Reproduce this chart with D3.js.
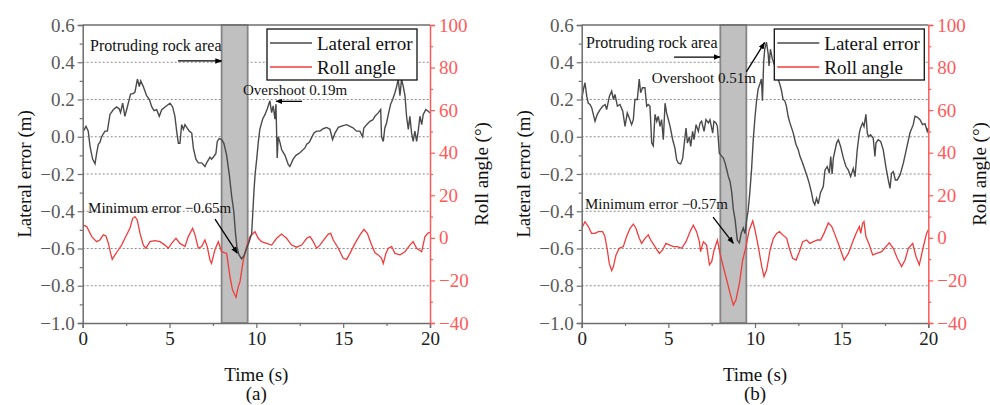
<!DOCTYPE html>
<html>
<head>
<meta charset="utf-8">
<script src="https://cdn.jsdelivr.net/npm/d3@7"></script>
<style>
body{margin:0;background:#fff;}
text{font-family:"Liberation Serif","Times New Roman",serif;}
</style>
</head>
<body>
<script>
// time ticks and axis ranges
const timeTicks = [0, 5, 10, 15, 20];
const timeMinor = [2.5, 7.5, 12.5, 17.5];
const latTicks = [-1.0, -0.8, -0.6, -0.4, -0.2, 0.0, 0.2, 0.4, 0.6];
const latMinor = [-0.9, -0.7, -0.5, -0.3, -0.1, 0.1, 0.3, 0.5];
const latGrid = [-0.8, -0.6, -0.4, -0.2, 0.0, 0.2, 0.4];
const rollTicks = [-40, -20, 0, 20, 40, 60, 80, 100];
const rollMinor = [-30, -10, 10, 30, 50, 70, 90];
const rockArea = [8.0, 9.5];
const legendNames = ["Lateral error", "Roll angle"];
const panelLabels = ["(a)", "(b)"];

// panel (a) : [time s, lateral error m]
const latA = [[0.04,0.03],[0.19,0.056],[0.32,0.03],[0.42,-0.05],[0.57,-0.12],[0.71,-0.145],[0.80,-0.09],[0.90,-0.04],[0.99,-0.03],[1.09,0.0],[1.28,0.03],[1.42,0.03],[1.57,0.12],[1.76,0.145],[1.95,0.16],[2.1,0.15],[2.18,0.13],[2.3,0.18],[2.43,0.11],[2.57,0.16],[2.76,0.23],[2.88,0.23],[3.01,0.24],[3.15,0.31],[3.26,0.27],[3.34,0.30],[3.49,0.27],[3.68,0.22],[3.84,0.20],[3.98,0.16],[4.11,0.14],[4.26,0.145],[4.41,0.11],[4.55,0.145],[4.74,0.16],[5.03,0.18],[5.18,0.16],[5.31,0.11],[5.41,0.03],[5.51,-0.035],[5.6,-0.035],[5.7,0.065],[5.8,0.04],[5.89,0.065],[5.99,0.05],[6.14,0.03],[6.28,0.02],[6.37,-0.06],[6.52,-0.12],[6.66,-0.14],[6.85,-0.14],[7.04,-0.16],[7.14,-0.14],[7.33,-0.11],[7.42,-0.12],[7.52,-0.11],[7.67,-0.09],[7.75,-0.025],[7.86,-0.01],[8.0,-0.015],[8.13,-0.035],[8.29,-0.10],[8.45,-0.21],[8.58,-0.32],[8.7,-0.40],[8.8,-0.52],[8.88,-0.59],[9.0,-0.635],[9.15,-0.655],[9.28,-0.64],[9.44,-0.60],[9.6,-0.56],[9.73,-0.52],[9.8,-0.40],[9.87,-0.28],[9.93,-0.20],[10.02,-0.12],[10.11,-0.03],[10.2,0.04],[10.36,0.094],[10.5,0.12],[10.63,0.15],[10.78,0.193],[10.88,0.13],[10.97,0.166],[11.07,0.094],[11.13,0.175],[11.2,-0.114],[11.26,0.0],[11.36,-0.03],[11.46,-0.07],[11.65,-0.10],[11.84,-0.15],[11.93,-0.16],[12.12,-0.12],[12.28,-0.10],[12.51,-0.086],[12.8,-0.06],[12.9,-0.04],[13.05,-0.03],[13.18,-0.005],[13.32,0.02],[13.47,0.03],[13.66,0.03],[13.85,0.043],[14.05,0.05],[14.24,0.04],[14.39,-0.015],[14.53,0.02],[14.72,0.05],[15.0,0.06],[15.2,0.065],[15.39,0.056],[15.58,0.047],[15.77,0.03],[15.96,0.03],[16.12,0.0],[16.19,0.047],[16.35,0.065],[16.54,0.083],[16.7,0.09],[16.83,0.11],[17.02,0.128],[17.16,0.146],[17.21,0.0],[17.31,-0.025],[17.4,0.047],[17.5,0.074],[17.6,0.12],[17.73,0.174],[17.85,0.2],[17.98,0.236],[18.08,0.27],[18.17,0.31],[18.27,0.22],[18.36,0.31],[18.46,0.27],[18.56,0.22],[18.65,0.11],[18.75,0.04],[18.84,0.11],[18.94,0.02],[19.03,-0.025],[19.13,0.03],[19.23,-0.025],[19.32,0.03],[19.42,0.11],[19.52,0.065],[19.61,0.12],[19.76,0.146],[19.9,0.137],[20.0,0.128]];

// panel (a) : [time s, roll angle deg]
const rollA = [[0.04,6.0],[0.23,5.3],[0.52,0.6],[0.8,-1.8],[0.99,-1.0],[1.19,1.4],[1.34,0.9],[1.48,-2.6],[1.61,-7.3],[1.7,-10.1],[1.86,-8.0],[2.05,-5.7],[2.24,-3.4],[2.43,-0.2],[2.72,4.5],[2.88,9.2],[3.01,10.0],[3.14,8.4],[3.3,2.1],[3.49,-3.4],[3.64,-4.9],[3.87,-1.8],[4.16,-1.3],[4.45,-1.8],[4.74,-3.4],[4.93,-4.9],[5.12,-2.6],[5.37,-0.2],[5.6,-2.6],[5.89,-4.1],[6.08,0.6],[6.33,4.5],[6.47,1.4],[6.66,-4.9],[6.85,-4.1],[7.04,-1.0],[7.17,-4.1],[7.33,-10.4],[7.42,-12.0],[7.61,-5.7],[7.81,-1.8],[8.0,-6.5],[8.29,-7.3],[8.48,-18.2],[8.63,-24.5],[8.83,-27.9],[8.96,-22.9],[9.06,-20.6],[9.25,-10.4],[9.44,-4.1],[9.63,0.6],[9.92,2.9],[10.11,-0.2],[10.3,-1.8],[10.59,-2.6],[10.88,-3.4],[11.17,-0.2],[11.45,1.8],[11.74,-0.2],[12.03,-3.4],[12.32,-4.4],[12.61,-3.4],[12.9,-0.2],[13.09,0.6],[13.28,-1.8],[13.47,-4.9],[13.66,-3.4],[13.95,-0.2],[14.14,1.8],[14.28,2.1],[14.43,-1.0],[14.72,-4.9],[15.0,-9.6],[15.2,-10.1],[15.39,-7.3],[15.68,-2.6],[15.97,1.4],[16.2,4.0],[16.39,2.1],[16.64,-3.4],[16.83,-7.0],[17.02,-8.0],[17.21,-9.6],[17.31,-12.0],[17.46,-7.3],[17.6,-4.9],[17.79,-4.1],[17.98,-7.3],[18.27,-8.0],[18.56,-6.5],[18.84,-3.4],[19.03,-1.8],[19.23,-4.9],[19.52,-6.5],[19.71,0.6],[19.9,2.4],[20.0,2.6]];

// panel (b) : [time s, lateral error m]
const latB = [[0.0,0.2],[0.1,0.254],[0.19,0.29],[0.29,0.218],[0.38,0.18],[0.48,0.173],[0.58,0.155],[0.67,0.12],[0.77,0.083],[0.9,0.12],[1.06,0.146],[1.21,0.164],[1.35,0.173],[1.44,0.146],[1.6,0.218],[1.73,0.245],[1.83,0.2],[1.92,0.227],[2.06,0.164],[2.21,0.173],[2.37,0.137],[2.5,0.056],[2.63,0.128],[2.75,0.1],[2.88,0.065],[2.98,0.092],[3.07,0.2],[3.21,0.2],[3.32,0.31],[3.4,0.236],[3.51,0.263],[3.65,0.263],[3.75,0.164],[3.84,0.173],[3.94,0.164],[4.04,-0.034],[4.13,-0.049],[4.23,0.12],[4.33,0.083],[4.42,0.11],[4.52,0.056],[4.61,0.092],[4.71,-0.016],[4.81,0.18],[4.9,0.128],[5.0,0.092],[5.1,0.056],[5.25,-0.016],[5.38,-0.061],[5.48,-0.124],[5.58,-0.142],[5.71,-0.146],[5.83,-0.115],[5.9,-0.052],[6.02,0.047],[6.1,-0.034],[6.21,0.0],[6.29,-0.052],[6.4,0.029],[6.48,-0.016],[6.6,0.065],[6.73,0.029],[6.83,0.074],[6.92,0.083],[7.06,0.029],[7.17,0.092],[7.31,0.074],[7.4,0.092],[7.56,0.02],[7.63,0.083],[7.75,0.074],[7.83,0.056],[7.94,-0.088],[8.08,-0.104],[8.17,-0.113],[8.27,-0.14],[8.37,-0.177],[8.46,-0.213],[8.56,-0.24],[8.66,-0.30],[8.75,-0.39],[8.85,-0.445],[8.98,-0.555],[9.1,-0.57],[9.2,-0.52],[9.32,-0.49],[9.42,-0.52],[9.52,-0.445],[9.6,-0.40],[9.7,-0.30],[9.8,-0.177],[9.9,-0.014],[9.99,0.094],[10.08,0.184],[10.18,0.256],[10.28,0.283],[10.37,0.31],[10.43,0.193],[10.5,0.40],[10.56,0.47],[10.66,0.508],[10.76,0.445],[10.81,0.38],[10.89,0.47],[11.0,0.418],[11.14,0.38],[11.24,0.40],[11.33,0.31],[11.43,0.283],[11.53,0.247],[11.62,0.20],[11.72,0.193],[11.81,0.166],[11.91,0.11],[12.01,0.076],[12.2,0.022],[12.36,-0.04],[12.49,-0.068],[12.59,-0.104],[12.74,-0.14],[12.88,-0.177],[13.01,-0.213],[13.13,-0.25],[13.26,-0.30],[13.36,-0.348],[13.45,-0.365],[13.55,-0.33],[13.65,-0.36],[13.78,-0.30],[13.94,-0.267],[14.04,-0.178],[14.17,-0.16],[14.29,-0.196],[14.37,-0.106],[14.45,-0.2],[14.52,-0.115],[14.71,-0.034],[14.81,-0.016],[14.94,-0.052],[15.1,-0.115],[15.25,-0.16],[15.38,-0.178],[15.52,-0.214],[15.67,-0.17],[15.77,-0.214],[15.9,-0.07],[16.02,0.02],[16.09,0.047],[16.21,0.074],[16.29,0.056],[16.4,0.12],[16.48,0.02],[16.55,0.0],[16.67,0.011],[16.82,-0.007],[16.92,-0.106],[16.98,-0.034],[17.11,-0.016],[17.25,-0.025],[17.4,-0.07],[17.55,-0.16],[17.69,-0.232],[17.79,-0.277],[17.88,-0.196],[17.98,-0.187],[18.1,-0.232],[18.21,-0.232],[18.37,-0.205],[18.56,-0.142],[18.75,-0.061],[18.94,0.02],[19.13,0.065],[19.23,0.11],[19.36,0.106],[19.52,0.092],[19.67,0.065],[19.81,0.07],[19.94,0.029],[20.0,0.047]];

// panel (b) : [time s, roll angle deg]
const rollB = [[0.0,4.5],[0.19,7.6],[0.38,5.3],[0.57,2.1],[0.77,2.1],[0.96,2.9],[1.21,2.9],[1.34,0.6],[1.48,-5.7],[1.59,-12.0],[1.73,-15.4],[1.83,-13.5],[1.98,-8.0],[2.17,-4.9],[2.4,-4.1],[2.59,0.6],[2.79,4.5],[2.98,6.5],[3.13,4.5],[3.32,-0.2],[3.46,-2.6],[3.65,-0.2],[3.84,1.4],[3.98,-1.0],[4.23,-4.1],[4.48,-7.3],[4.67,-5.7],[4.86,-2.6],[5.09,-3.4],[5.29,-4.1],[5.52,-4.1],[5.77,-4.9],[6.02,-1.8],[6.25,2.9],[6.44,6.0],[6.63,2.9],[6.79,-1.8],[6.86,-6.5],[7.02,-1.8],[7.21,-3.4],[7.37,-12.7],[7.5,-11.2],[7.64,-5.7],[7.83,-1.0],[7.98,-7.3],[8.17,-13.5],[8.37,-19.8],[8.56,-26.1],[8.75,-31.5],[8.9,-29.2],[9.1,-21.4],[9.29,-10.4],[9.48,-4.1],[9.67,3.7],[9.87,8.0],[10.0,3.7],[10.19,-4.1],[10.39,-13.5],[10.52,-18.2],[10.67,-15.1],[10.87,-5.7],[11.06,-0.2],[11.25,2.1],[11.41,2.9],[11.6,1.4],[11.83,-0.2],[11.98,-4.9],[12.17,-9.6],[12.37,-10.4],[12.56,-6.5],[12.75,-1.8],[12.98,-1.0],[13.17,-2.6],[13.37,-1.8],[13.6,-1.0],[13.79,-1.0],[13.98,2.1],[14.23,7.0],[14.43,5.3],[14.62,1.4],[14.87,-4.1],[15.14,-10.4],[15.39,-7.3],[15.64,-1.8],[15.83,2.1],[16.02,5.3],[16.1,2.1],[16.21,6.8],[16.29,7.6],[16.4,0.6],[16.6,-3.4],[16.79,-8.0],[17.02,-7.3],[17.31,-6.5],[17.56,-4.1],[17.75,-2.3],[17.98,-4.9],[18.21,-9.6],[18.46,-13.5],[18.66,-10.4],[18.85,-4.9],[19.1,-2.6],[19.29,-8.8],[19.48,-12.7],[19.67,-5.7],[19.9,2.1],[20.0,3.7]];

// annotations: text position and arrow from/to, in data units
const notesA = [
  {text:"Protruding rock area", at:[0.42,0.46], size:16, from:[5.49,0.407], to:[8.0,0.407]},
  {text:"Overshoot 0.19m", at:[9.23,0.224], size:15, from:[12.63,0.19], to:[11.14,0.19]},
  {text:"Minimum error \u22120.65m", at:[0.31,-0.41], size:15, from:[7.62,-0.442], to:[8.9,-0.625]}
];
const notesB = [
  {text:"Protruding rock area", at:[0.25,0.477], size:16, from:[5.33,0.428], to:[7.98,0.428]},
  {text:"Overshoot 0.51m", at:[4.04,0.289], size:15, from:[9.5,0.348], to:[10.55,0.505]},
  {text:"Minimum error \u22120.57m", at:[0.19,-0.388], size:15, from:[7.58,-0.431], to:[8.75,-0.572]}
];

const W = 990, H = 405;
const plotTop = 25, plotBottom = 323;
const serif = "Liberation Serif, Times New Roman, serif";
const grayAxis = "#6e6e6e", grayText = "#5a5a5a", redAxis = "#ff5a5a", redLine = "#f03c3c", latColor = "#4a4a4a";

const svg = d3.select("body").append("svg")
  .attr("width", W).attr("height", H)
  .attr("font-family", serif);

const defs = svg.append("defs");
defs.append("marker")
  .attr("id", "arrow")
  .attr("viewBox", "0 0 10 10")
  .attr("refX", 9).attr("refY", 5)
  .attr("markerWidth", 7).attr("markerHeight", 7)
  .attr("markerUnits", "userSpaceOnUse")
  .attr("orient", "auto")
  .append("path").attr("d", "M0,1 L10,5 L0,9 Z").attr("fill", "#000");

const panels = [
  {x0: 82.7, x1: 430, lat: latA, roll: rollA, notes: notesA, legendRight: 13, label: panelLabels[0]},
  {x0: 581.7, x1: 928.3, lat: latB, roll: rollB, notes: notesB, legendRight: 4, label: panelLabels[1]}
];

panels.forEach(function(p){
  const x = d3.scaleLinear().domain([0, 20]).range([p.x0, p.x1]);
  const y = d3.scaleLinear().domain([-1.0, 0.6]).range([plotBottom, plotTop]);
  const yR = d3.scaleLinear().domain([-40, 100]).range([plotBottom, plotTop]);
  const g = svg.append("g");

  // grid
  g.selectAll(".grid").data(latGrid).enter().append("line")
    .attr("x1", p.x0).attr("x2", p.x1)
    .attr("y1", d => y(d)).attr("y2", d => y(d))
    .attr("stroke", "#8c8c8c").attr("stroke-width", 1)
    .attr("stroke-dasharray", "2,2");

  // shaded rock area
  g.append("rect")
    .attr("x", x(rockArea[0])).attr("y", plotTop)
    .attr("width", x(rockArea[1]) - x(rockArea[0]))
    .attr("height", plotBottom - plotTop)
    .attr("fill", "#c0c0c0").attr("stroke", "#858585").attr("stroke-width", 1.8);

  // lines
  const lineRoll = d3.line().x(d => x(d[0])).y(d => yR(d[1]));
  const lineLat = d3.line().x(d => x(d[0])).y(d => y(d[1]));
  g.append("path").datum(p.roll)
    .attr("d", lineRoll).attr("fill", "none")
    .attr("stroke", redLine).attr("stroke-width", 1.3);
  g.append("path").datum(p.lat)
    .attr("d", lineLat).attr("fill", "none")
    .attr("stroke", latColor).attr("stroke-width", 1.4);

  // top frame
  g.append("line").attr("x1", p.x0).attr("x2", p.x1).attr("y1", plotTop).attr("y2", plotTop)
    .attr("stroke", grayAxis).attr("stroke-width", 1.5);

  // left axis
  const axL = g.append("g").attr("transform", "translate(" + p.x0 + ",0)")
    .call(d3.axisLeft(y).tickValues(latTicks).tickFormat(d3.format(".1f")).tickSize(5).tickPadding(3))
    .attr("font-family", serif).attr("font-size", 19);
  g.append("g").attr("transform", "translate(" + p.x0 + ",0)")
    .call(d3.axisLeft(y).tickValues(latMinor).tickFormat("").tickSize(3))
    .call(a => a.select(".domain").remove())
    .selectAll("line").attr("stroke", grayAxis).attr("stroke-width", 1.2);
  axL.select(".domain").attr("stroke", grayAxis).attr("stroke-width", 1.5);
  axL.selectAll(".tick line").attr("stroke", grayAxis).attr("stroke-width", 1.2);
  axL.selectAll("text").attr("fill", grayText);

  // bottom axis
  const axB = g.append("g").attr("transform", "translate(0," + plotBottom + ")")
    .call(d3.axisBottom(x).tickValues(timeTicks).tickFormat(d3.format("d")).tickSize(5).tickPadding(4))
    .attr("font-family", serif).attr("font-size", 19);
  g.append("g").attr("transform", "translate(0," + plotBottom + ")")
    .call(d3.axisBottom(x).tickValues(timeMinor).tickFormat("").tickSize(3))
    .call(a => a.select(".domain").remove())
    .selectAll("line").attr("stroke", grayAxis).attr("stroke-width", 1.2);
  axB.select(".domain").attr("stroke", grayAxis).attr("stroke-width", 1.5);
  axB.selectAll(".tick line").attr("stroke", grayAxis).attr("stroke-width", 1.2);
  axB.selectAll("text").attr("fill", "#222");

  // right axis (roll)
  const axR = g.append("g").attr("transform", "translate(" + p.x1 + ",0)")
    .call(d3.axisRight(yR).tickValues(rollTicks).tickSize(5).tickPadding(4))
    .attr("font-family", serif).attr("font-size", 19);
  g.append("g").attr("transform", "translate(" + p.x1 + ",0)")
    .call(d3.axisRight(yR).tickValues(rollMinor).tickFormat("").tickSize(3))
    .call(a => a.select(".domain").remove())
    .selectAll("line").attr("stroke", redAxis).attr("stroke-width", 1.2);
  axR.select(".domain").attr("stroke", redAxis).attr("stroke-width", 1.5);
  axR.selectAll(".tick line").attr("stroke", redAxis).attr("stroke-width", 1.2);
  axR.selectAll("text").attr("fill", redAxis);

  // axis titles
  g.append("text")
    .attr("transform", "translate(" + (p.x0 - 52) + "," + ((plotTop + plotBottom) / 2) + ") rotate(-90)")
    .attr("text-anchor", "middle").attr("font-size", 19).attr("fill", "#111")
    .text("Lateral error (m)");
  g.append("text")
    .attr("transform", "translate(" + (p.x1 + 57.5) + "," + ((plotTop + plotBottom) / 2) + ") rotate(-90)")
    .attr("text-anchor", "middle").attr("font-size", 19).attr("fill", "#111")
    .text("Roll angle (\u00b0)");
  g.append("text")
    .attr("x", (p.x0 + p.x1) / 2).attr("y", 381)
    .attr("text-anchor", "middle").attr("font-size", 19).attr("fill", "#111")
    .text("Time (s)");
  g.append("text")
    .attr("x", (p.x0 + p.x1) / 2).attr("y", 400)
    .attr("text-anchor", "middle").attr("font-size", 19).attr("fill", "#111")
    .text(p.label);

  // legend
  const lw = 150, lh = 51;
  const lx = p.x1 - p.legendRight - lw, ly = 29;
  const leg = g.append("g").attr("transform", "translate(" + lx + "," + ly + ")");
  leg.append("rect").attr("width", lw).attr("height", lh)
    .attr("fill", "#fff").attr("stroke", "#111").attr("stroke-width", 1.3);
  const legColors = [latColor, redLine];
  legendNames.forEach(function(name, i){
    leg.append("line").attr("x1", 3).attr("x2", 45)
      .attr("y1", 14 + i * 24).attr("y2", 14 + i * 24)
      .attr("stroke", legColors[i]).attr("stroke-width", 1.4);
    leg.append("text").attr("x", 50).attr("y", 20.5 + i * 24)
      .attr("font-size", 19).attr("fill", "#111").text(name);
  });

  // annotations
  p.notes.forEach(function(n){
    g.append("text").attr("x", x(n.at[0])).attr("y", y(n.at[1]))
      .attr("font-size", n.size).attr("fill", "#111").text(n.text);
    g.append("line")
      .attr("x1", x(n.from[0])).attr("y1", y(n.from[1]))
      .attr("x2", x(n.to[0])).attr("y2", y(n.to[1]))
      .attr("stroke", "#000").attr("stroke-width", 1.3)
      .attr("marker-end", "url(#arrow)");
  });
});
</script>
</body>
</html>
